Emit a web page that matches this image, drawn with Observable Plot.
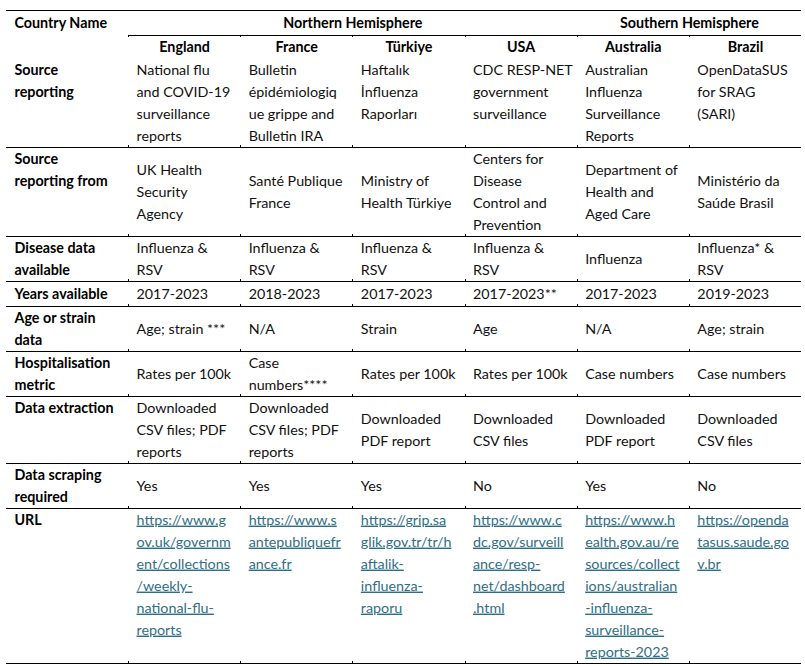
<!DOCTYPE html>
<html><head><meta charset="utf-8">
<script src="https://cdn.jsdelivr.net/npm/d3@7"></script>
<script src="https://cdn.jsdelivr.net/npm/@observablehq/plot@0.6"></script>
<style>
html,body{margin:0;padding:0;background:#fff;}
#chart svg{display:block;}
</style></head><body><div id="chart"></div>
<script>
// ---------- table content ----------
const cornerLabel = "Country Name";
const hemispheres = ["Northern Hemisphere", "Southern Hemisphere"];
const hemisphereCounts = [4, 2];
const countries = ["England", "France", "Türkiye", "USA", "Australia", "Brazil"];
const rowLabels = ["Source\nreporting", "Source\nreporting from", "Disease data\navailable", "Years available", "Age or strain\ndata", "Hospitalisation\nmetric", "Data extraction", "Data scraping\nrequired", "URL"];
const sourceReporting = ["National flu\nand COVID-19\nsurveillance\nreports", "Bulletin\népidémiologiq\nue grippe and\nBulletin IRA", "Haftalık\nİnfluenza\nRaporları", "CDC RESP-NET\ngovernment\nsurveillance", "Australian\nInfluenza\nSurveillance\nReports", "OpenDataSUS\nfor SRAG\n(SARI)"];
const sourceFrom = ["UK Health\nSecurity\nAgency", "Santé Publique\nFrance", "Ministry of\nHealth Türkiye", "Centers for\nDisease\nControl and\nPrevention", "Department of\nHealth and\nAged Care", "Ministério da\nSaúde Brasil"];
const diseases = ["Influenza &\nRSV", "Influenza &\nRSV", "Influenza &\nRSV", "Influenza &\nRSV", "Influenza", "Influenza* &\nRSV"];
const yearsAvailable = ["2017-2023", "2018-2023", "2017-2023", "2017-2023**", "2017-2023", "2019-2023"];
const ageStrain = ["Age; strain ***", "N/A", "Strain", "Age", "N/A", "Age; strain"];
const metrics = ["Rates per 100k", "Case\nnumbers****", "Rates per 100k", "Rates per 100k", "Case numbers", "Case numbers"];
const extraction = ["Downloaded\nCSV files; PDF\nreports", "Downloaded\nCSV files; PDF\nreports", "Downloaded\nPDF report", "Downloaded\nCSV files", "Downloaded\nPDF report", "Downloaded\nCSV files"];
const scraping = ["Yes", "Yes", "Yes", "No", "Yes", "No"];
const urls = ["https://www.g\nov.uk/governm\nent/collections\n/weekly-\nnational-flu-\nreports", "https://www.s\nantepubliquefr\nance.fr", "https://grip.sa\nglik.gov.tr/tr/h\naftalik-\ninfluenza-\nraporu", "https://www.c\ndc.gov/surveill\nance/resp-\nnet/dashboard\n.html", "https://www.h\nealth.gov.au/re\nsources/collect\nions/australian\n-influenza-\nsurveillance-\nreports-2023", "https://openda\ntasus.saude.go\nv.br"];

// ---------- layout ----------
const W = 805, H = 666;
const LINE = 22, PAD = 8;
const tableTop = 10, tableLeft = 6, tableRight = 801, firstCol = 128;
const colW = (tableRight - firstCol) / countries.length;
const colLeft = i => firstCol + i * colW;
const FONT = "Lato";
const FS = 14.3;
const urlColor = "#2f6f86";

const body = [
  {cells: sourceReporting, align: "top"},
  {cells: sourceFrom, align: "middle"},
  {cells: diseases, align: "middle"},
  {cells: yearsAvailable, align: "middle"},
  {cells: ageStrain, align: "middle"},
  {cells: metrics, align: "middle"},
  {cells: extraction, align: "middle"},
  {cells: scraping, align: "middle"},
  {cells: urls, align: "top", url: true}
];

const borders = [], ticks = [], normal = [], bold = [], boldMid = [], link = [];
const nl = s => s.split("\n").length;
function placeLines(arr, s, x, top, h, n, align) {
  const lines = s.split("\n");
  const m = lines.length;
  const start = align === "top" ? top + (h - LINE * n) / 2 : top + (h - LINE * m) / 2;
  lines.forEach((t, k) => arr.push({x, y: start + LINE / 2 + k * LINE, text: t}));
}
let y = tableTop;
borders.push({y, x1: tableLeft, x2: tableRight});
// header row
let h = 25;
placeLines(bold, cornerLabel, tableLeft + PAD, y, h, 1, "top");
let c0 = 0;
hemispheres.forEach((name, j) => {
  const a = colLeft(c0), b = colLeft(c0 + hemisphereCounts[j]);
  placeLines(boldMid, name, (a + b) / 2, y, h, 1, "top");
  c0 += hemisphereCounts[j];
});
y += h;
borders.push({y, x1: firstCol, x2: tableRight});
for (let i = 0; i < countries.length; i++) ticks.push({x: Math.round(colLeft(i)), y1: y, y2: y + 2});
// country row (no border below)
h = 23;
countries.forEach((c, i) => placeLines(boldMid, c, colLeft(i) + colW / 2, y, h, 1, "top"));
y += h;
// body rows
body.forEach((row, r) => {
  const n = Math.max(nl(rowLabels[r]), ...row.cells.map(nl));
  const rh = Math.max(LINE * n + 1, 25);
  placeLines(bold, rowLabels[r], tableLeft + PAD, y, rh, n, "top");
  row.cells.forEach((c, i) => placeLines(row.url ? link : normal, c, colLeft(i) + PAD, y, rh, n, row.align));
  y += rh;
  borders.push({y, x1: tableLeft, x2: tableRight});
  for (let i = 0; i < countries.length; i++) ticks.push({x: Math.round(colLeft(i)), y1: y - 2, y2: y + 1});
});

const common = {x: "x", y: "y", text: "text", fontSize: FS, lineAnchor: "middle"};
const chart = Plot.plot({
  width: W, height: H, margin: 0,
  x: {type: "identity", axis: null},
  y: {type: "identity", axis: null},
  style: {fontFamily: FONT, background: "#fff", color: "#000"},
  marks: [
    Plot.ruleY(borders, {y: "y", x1: "x1", x2: "x2", stroke: "#000", strokeWidth: 1}),
    Plot.ruleX(ticks, {x: "x", y1: "y1", y2: "y2", stroke: "#000", strokeWidth: 1}),
    Plot.text(normal, {...common, textAnchor: "start", fill: "#111"}),
    Plot.text(bold, {...common, textAnchor: "start", fontWeight: "bold", fill: "#000"}),
    Plot.text(boldMid, {...common, textAnchor: "middle", fontWeight: "bold", fill: "#000"}),
    Plot.text(link, {...common, textAnchor: "start", fill: urlColor})
  ]
});
document.getElementById("chart").appendChild(chart);
d3.select(chart).selectAll(`g[fill="${urlColor}"] text`)
  .style("text-decoration", "underline")
  .style("text-decoration-thickness", "1.6px")
  .style("text-underline-offset", "2px");
</script></body></html>
